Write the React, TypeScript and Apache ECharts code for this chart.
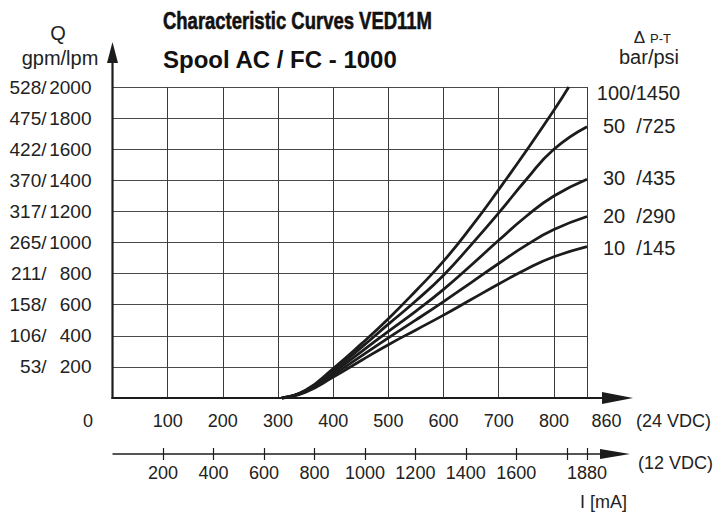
import React, { useEffect, useRef } from 'react';
import * as echarts from 'echarts';

const TITLE = 'Characteristic Curves VED11M';
const SUBTITLE = 'Spool AC / FC - 1000';
const current24Labels = [0, 100, 200, 300, 400, 500, 600, 700, 800, 860];
const current12Ticks = [200, 400, 600, 800, 1000, 1200, 1400, 1600, 1800, 1880];
const current12Labels = [200, 400, 600, 800, 1000, 1200, 1400, 1600, 1880];
const flowLpmTicks = [200, 400, 600, 800, 1000, 1200, 1400, 1600, 1800, 2000];
const flowGpmTicks = [53, 106, 158, 211, 265, 317, 370, 422, 475, 528];
const pressureLabels = ['100/1450', '50  /725', '30  /435', '20  /290', '10  /145'];

const curve100 = [[307, 0], [350, 50], [400, 190], [450, 345], [500, 510], [550, 690], [600, 880], [650, 1100], [700, 1340], [750, 1590], [800, 1850], [827, 2000]];
const curve50 = [[307, 0], [350, 48], [400, 178], [450, 322], [500, 475], [550, 625], [600, 790], [650, 985], [700, 1190], [750, 1405], [800, 1600], [860, 1745]];
const curve30 = [[307, 0], [350, 45], [400, 165], [450, 295], [500, 429], [550, 559], [600, 699], [650, 854], [700, 1014], [750, 1169], [800, 1299], [860, 1407]];
const curve20 = [[307, 0], [350, 42], [400, 150], [450, 268], [500, 387], [550, 502], [600, 620], [650, 742], [700, 865], [750, 983], [800, 1083], [860, 1167]];
const curve10 = [[307, 0], [350, 38], [400, 135], [450, 240], [500, 343], [550, 438], [600, 533], [650, 633], [700, 733], [750, 828], [800, 908], [860, 974]];
const curves = [curve100, curve50, curve30, curve20, curve10];
const labelOffsets = [[20, 6], [8, -1], [8, -1], [8, -1], [8, 1]];

const FONT = 'Liberation Sans, Arial, Helvetica, sans-serif';
const INK = '#1c1c1c';
const TXT = '#222';

export default function App() {
  const ref = useRef<HTMLDivElement>(null);
  useEffect(() => {
    if (!ref.current) return;
    const chart = echarts.init(ref.current, undefined, { renderer: 'svg' });
    const gpmOf = (v: number) => flowGpmTicks[flowLpmTicks.indexOf(v)];
    chart.setOption({
      animation: false,
      textStyle: { fontFamily: FONT },
      grid: { left: 112.5, top: 87, right: 130, bottom: 115 },
      xAxis: [
        {
          type: 'value', min: 0, max: 860, interval: 100,
          axisLine: { show: false }, axisTick: { show: false },
          splitLine: { show: true, lineStyle: { color: '#3a3a3a', width: 1 } },
          axisLabel: {
            customValues: current24Labels, margin: 14, color: TXT, fontSize: 18,
            formatter: (v: number) => (v === 0 ? '{z|0}' : v === 860 ? '{e|860}' : String(v)),
            rich: {
              z: { fontSize: 18, color: TXT, padding: [0, 49, 0, 0] },
              e: { fontSize: 18, color: TXT, padding: [0, 0, 0, 39] },
            },
          },
        },
        {
          type: 'value', min: 0, max: 1880, position: 'bottom', offset: 56,
          axisLine: { show: false }, splitLine: { show: false },
          axisTick: { show: true, customValues: current12Ticks, length: 6, inside: false, lineStyle: { color: INK, width: 1.2 } },
          axisLabel: { customValues: current12Labels, margin: 10, color: TXT, fontSize: 18, formatter: (v: number) => String(v) },
        },
        {
          type: 'value', min: 0, max: 1880, position: 'bottom', offset: 56,
          axisLine: { show: false }, splitLine: { show: false },
          axisTick: { show: true, customValues: current12Ticks, length: 6, inside: true, lineStyle: { color: INK, width: 1.2 } },
          axisLabel: { show: false },
        },
      ],
      yAxis: {
        type: 'value', min: 0, max: 2000, interval: 200,
        axisLine: { show: false }, axisTick: { show: false },
        splitLine: { show: true, lineStyle: { color: '#4a4a4a', width: 1 } },
        axisLabel: {
          customValues: flowLpmTicks, margin: 21,
          formatter: (v: number) => `{g|${gpmOf(v)}/}{l|${v}}`,
          rich: {
            g: { fontSize: 19, color: TXT, width: 47, align: 'right' },
            l: { fontSize: 19, color: TXT, width: 45, align: 'right' },
          },
        },
      },
      series: curves.map((c, i) => ({
        type: 'line', xAxisIndex: 0, yAxisIndex: 0, data: c, smooth: 0.5, showSymbol: false,
        lineStyle: { color: INK, width: 2.8 },
        endLabel: {
          show: true, formatter: pressureLabels[i], color: TXT, fontSize: 20, fontFamily: FONT,
          offset: labelOffsets[i],
        },
        silent: true,
      })),
    });

    const o = chart.convertToPixel({ xAxisIndex: 0, yAxisIndex: 0 }, [0, 0]) as number[];
    const t = chart.convertToPixel({ xAxisIndex: 0, yAxisIndex: 0 }, [860, 2000]) as number[];
    const ox = o[0], oy = o[1], ex = t[0], ty = t[1];
    const y12 = oy + 56;
    const yTip = ty - 45;
    const ln = (x1: number, y1: number, x2: number, y2: number, w: number) => ({
      type: 'line', shape: { x1, y1, x2, y2 }, style: { stroke: INK, lineWidth: w }, silent: true,
    });
    const poly = (pts: number[][]) => ({ type: 'polygon', shape: { points: pts }, style: { fill: INK }, silent: true });
    const txt = (x: number, y: number, text: string, size: number, align: string, extra: any = {}) => ({
      type: 'text', x, y, silent: true,
      style: { text, fontSize: size, fontFamily: FONT, fill: TXT, align, verticalAlign: 'middle', ...extra },
    });
    chart.setOption({
      graphic: [
        ln(ox, oy + 1, ox, yTip + 12, 2.2),
        poly([[ox, yTip], [ox - 5.5, yTip + 21], [ox + 5.5, yTip + 21]]),
        ln(ox - 1, oy, ex + 16, oy, 2.2),
        poly([[ex + 46, oy], [ex + 15, oy - 6], [ex + 15, oy + 6]]),
        ln(ox, y12, ex + 15, y12, 1.6),
        poly([[ex + 43, y12], [ex + 13, y12 - 5], [ex + 13, y12 + 5]]),
        {
          type: 'text', x: 163, y: 21, scaleX: 0.77, silent: true,
          style: { text: TITLE, fontSize: 24, fontWeight: 'bold', fontFamily: FONT, fill: '#111', stroke: '#111', lineWidth: 0.6, align: 'left', verticalAlign: 'middle' },
        },
        txt(163, 59, SUBTITLE, 24, 'left', { fontWeight: 'bold', fill: '#111' }),
        txt(58, 33, 'Q', 20, 'center'),
        txt(60, 58, 'gpm/lpm', 20, 'center'),
        txt(645, 37, 'Δ', 17, 'right'),
        txt(650, 38, 'P-T', 13, 'left'),
        txt(649, 57, 'bar/psi', 20, 'center'),
        txt(636, 421, '(24 VDC)', 18, 'left'),
        txt(638, 463, '(12 VDC)', 18, 'left'),
        txt(580, 502, 'I [mA]', 18, 'left'),
      ],
    });
    return () => chart.dispose();
  }, []);
  return <div ref={ref} style={{ position: 'fixed', left: 0, top: 0, width: 717, height: 513, background: '#fff' }} />;
}
